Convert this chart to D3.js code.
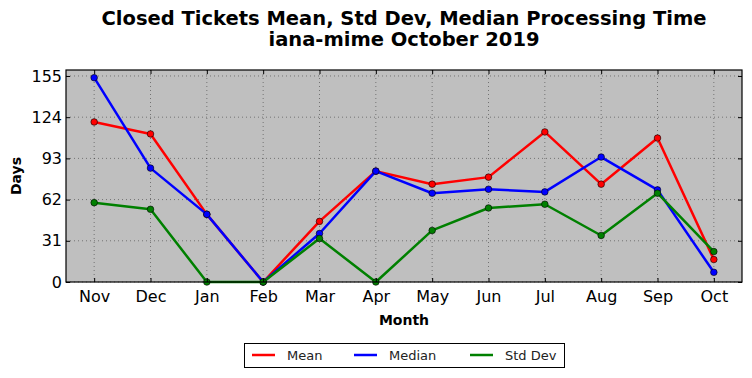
<!DOCTYPE html>
<html>
<head>
<meta charset="utf-8">
<script src="https://cdn.jsdelivr.net/npm/d3@7"></script>
<style>
body { margin: 0; background: #fff; }
svg { display: block; font-family: "DejaVu Sans", sans-serif; }
</style>
</head>
<body>
<svg id="chart"></svg>
<script>
var months = ['Nov','Dec','Jan','Feb','Mar','Apr','May','Jun','Jul','Aug','Sep','Oct'];
var mean_vals = [120.4, 111.4, 50.9, 0, 45.6, 83.4, 73.6, 78.9, 112.9, 73.6, 108.3, 16.9];
var median_vals = [153.7, 85.7, 50.9, 0, 36.5, 83.4, 66.8, 69.8, 67.8, 94.0, 69.3, 7.3];
var std_vals = [59.7, 54.7, 0, 0, 32.7, 0, 38.8, 55.7, 58.5, 35.0, 66.8, 22.9];
var y_ticks = [0, 31, 62, 93, 124, 155];

var series = [
	{name: 'Mean', color: '#ff0000', values: mean_vals},
	{name: 'Median', color: '#0000ff', values: median_vals},
	{name: 'Std Dev', color: '#008000', values: std_vals}
];

var w = 752, h = 378;
var plot_l = 66, plot_r = 742, plot_t = 70, plot_b = 282;

var svg = d3.select('#chart').attr('width', w).attr('height', h);

var x = d3.scaleLinear().domain([-0.5, months.length - 0.5]).range([plot_l, plot_r]);
var y = d3.scaleLinear().domain([0, 159.5]).range([plot_b, plot_t]);

svg.append('rect')
	.attr('x', plot_l).attr('y', plot_t)
	.attr('width', plot_r - plot_l).attr('height', plot_b - plot_t)
	.attr('fill', '#bfbfbf');

// grid
var grid = svg.append('g');
months.forEach(function(m, i){
	grid.append('line')
		.attr('x1', x(i)).attr('x2', x(i))
		.attr('y1', plot_t).attr('y2', plot_b)
		.attr('stroke', '#000').attr('stroke-opacity', 0.5)
		.attr('stroke-width', 0.8).attr('stroke-dasharray', '1,3');
});
y_ticks.forEach(function(t){
	grid.append('line')
		.attr('x1', plot_l).attr('x2', plot_r)
		.attr('y1', y(t)).attr('y2', y(t))
		.attr('stroke', '#000').attr('stroke-opacity', 0.5)
		.attr('stroke-width', 0.8).attr('stroke-dasharray', '1,3');
});

// lines + markers
var line = d3.line()
	.x(function(d, i){ return x(i); })
	.y(function(d){ return y(d); });

series.forEach(function(s){
	svg.append('path')
		.datum(s.values)
		.attr('d', line)
		.attr('fill', 'none')
		.attr('stroke', s.color)
		.attr('stroke-width', 2.5)
		.attr('stroke-linejoin', 'round');
	svg.append('g').selectAll('circle')
		.data(s.values)
		.join('circle')
		.attr('cx', function(d, i){ return x(i); })
		.attr('cy', function(d){ return y(d); })
		.attr('r', 3.3)
		.attr('fill', s.color)
		.attr('stroke', '#000')
		.attr('stroke-width', 0.6);
});

// axes (inward ticks, classic style)
var xAxis = d3.axisBottom(x).tickValues(d3.range(months.length))
	.tickFormat(function(i){ return months[i]; })
	.tickSizeInner(-4).tickSizeOuter(0).tickPadding(9);
var xg = svg.append('g').attr('transform', 'translate(0,' + plot_b + ')').call(xAxis);
var xTop = d3.axisTop(x).tickValues(d3.range(months.length))
	.tickFormat('').tickSizeInner(-4).tickSizeOuter(0);
var xtg = svg.append('g').attr('transform', 'translate(0,' + plot_t + ')').call(xTop);

var yAxis = d3.axisLeft(y).tickValues(y_ticks)
	.tickSizeInner(-4).tickSizeOuter(0).tickPadding(4);
var yg = svg.append('g').attr('transform', 'translate(' + plot_l + ',0)').call(yAxis);
var yRight = d3.axisRight(y).tickValues(y_ticks)
	.tickFormat('').tickSizeInner(-4).tickSizeOuter(0);
var yrg = svg.append('g').attr('transform', 'translate(' + plot_r + ',0)').call(yRight);

[xg, xtg, yg, yrg].forEach(function(g){
	g.select('.domain').remove();
	g.selectAll('text').attr('font-size', '16px').attr('font-family', 'DejaVu Sans').attr('fill', '#000');
	g.selectAll('line').attr('stroke', '#000');
});

svg.append('rect')
	.attr('x', plot_l).attr('y', plot_t)
	.attr('width', plot_r - plot_l).attr('height', plot_b - plot_t)
	.attr('fill', 'none').attr('stroke', '#000').attr('stroke-width', 1.2);

// titles
var cx = (plot_l + plot_r) / 2;
svg.append('text').attr('x', cx).attr('y', 25)
	.attr('text-anchor', 'middle').attr('font-size', '19.5px').attr('font-weight', 'bold')
	.text('Closed Tickets Mean, Std Dev, Median Processing Time');
svg.append('text').attr('x', cx).attr('y', 46)
	.attr('text-anchor', 'middle').attr('font-size', '19.5px').attr('font-weight', 'bold')
	.text('iana-mime October 2019');
svg.append('text').attr('x', cx).attr('y', 325)
	.attr('text-anchor', 'middle').attr('font-size', '14px').attr('font-weight', 'bold')
	.text('Month');
svg.append('text')
	.attr('transform', 'translate(21,' + ((plot_t + plot_b) / 2) + ') rotate(-90)')
	.attr('text-anchor', 'middle').attr('font-size', '14px').attr('font-weight', 'bold')
	.text('Days');

// legend
var legend = svg.append('g');
legend.append('rect')
	.attr('x', 244.5).attr('y', 343.5).attr('width', 320).attr('height', 24)
	.attr('fill', '#fff').attr('stroke', '#000').attr('stroke-width', 1);
var legX = [252, 354, 470];
series.forEach(function(s, i){
	legend.append('line')
		.attr('x1', legX[i]).attr('x2', legX[i] + 23)
		.attr('y1', 355).attr('y2', 355)
		.attr('stroke', s.color).attr('stroke-width', 2.5);
	legend.append('text')
		.attr('x', legX[i] + 35).attr('y', 360)
		.attr('font-size', '13px').attr('fill', '#222')
		.text(s.name);
});
</script>
</body>
</html>
